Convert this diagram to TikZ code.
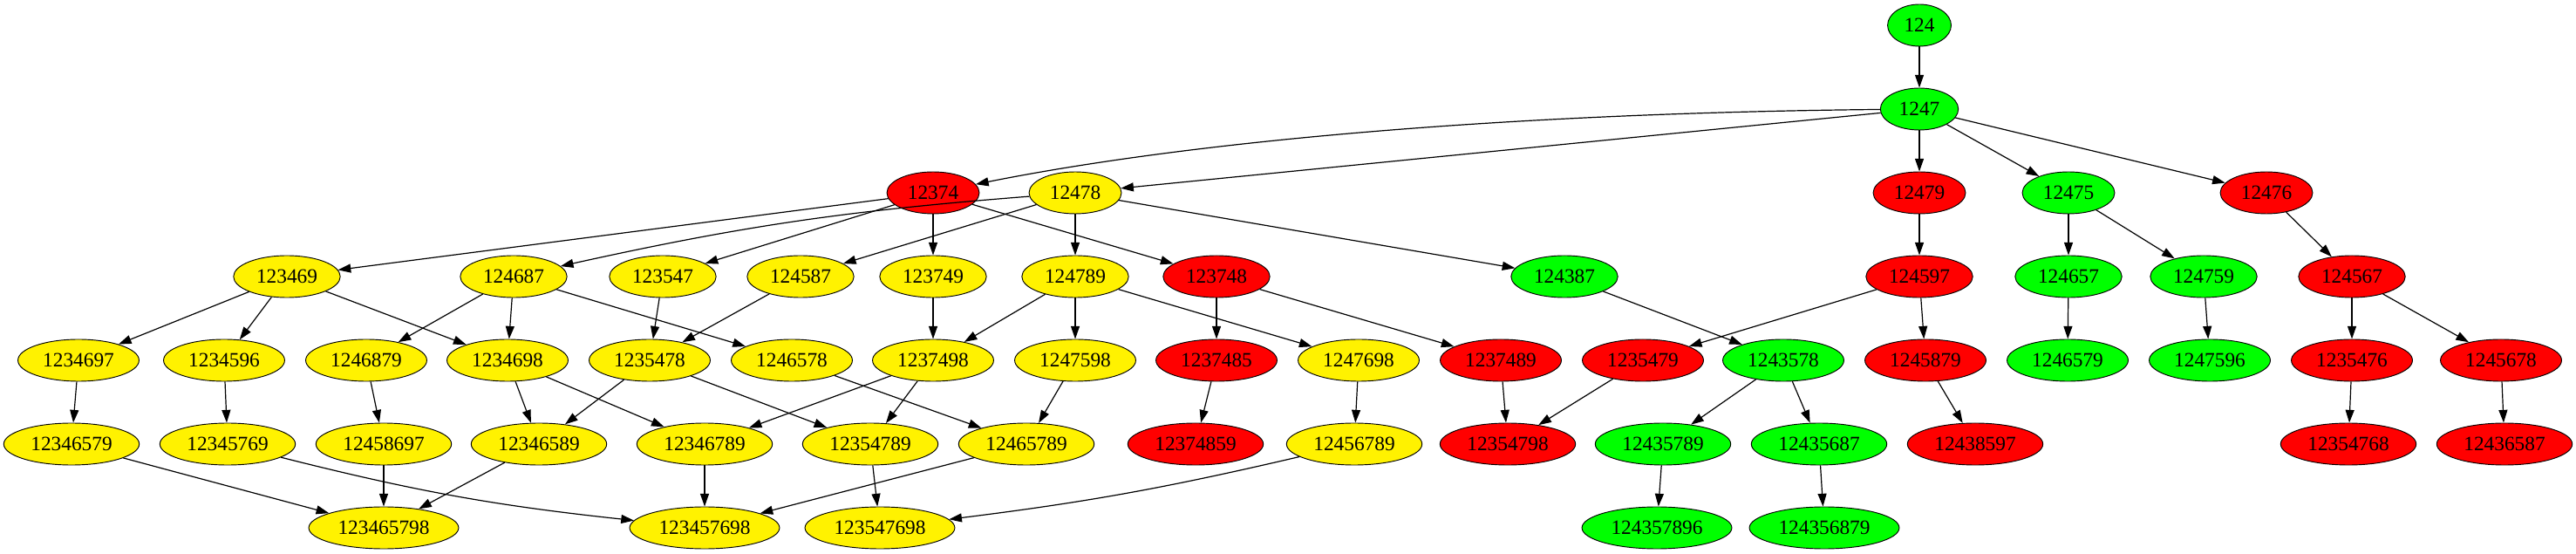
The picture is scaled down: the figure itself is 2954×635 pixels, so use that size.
\documentclass[tikz,border=0pt]{standalone}
\usepackage{fontspec}
\setmainfont{Liberation Serif}
\usetikzlibrary{shapes.geometric, arrows.meta}

\tikzset{
    perm/.style={ellipse, draw, line width=0.7pt, inner xsep=6.2pt, inner ysep=2pt, minimum height=36pt, font=\fontsize{17.5}{21}\selectfont},
    gnode/.style={perm, fill=green},
    rnode/.style={perm, fill=red},
    ynode/.style={perm, fill=yellow},
    link/.style={-{Triangle[length=11pt, width=7.5pt]}, line width=0.9pt}
}

\begin{document}
\begin{tikzpicture}[x=0.75pt, y=0.75pt]
        \useasboundingbox (0,0) rectangle (2954,635);
        \node[gnode] (n124) at (2201,606) {124};
        \node[gnode] (n1247) at (2201,510) {1247};
        \node[rnode] (n12374) at (1070,414) {12374};
        \node[ynode] (n12478) at (1233,414) {12478};
        \node[rnode] (n12479) at (2201,414) {12479};
        \node[gnode] (n12475) at (2372,414) {12475};
        \node[rnode] (n12476) at (2599,414) {12476};
        \node[ynode] (n123469) at (329,318) {123469};
        \node[ynode] (n124687) at (589,318) {124687};
        \node[ynode] (n123547) at (760,318) {123547};
        \node[ynode] (n124587) at (918,318) {124587};
        \node[ynode] (n123749) at (1070,318) {123749};
        \node[ynode] (n124789) at (1233,318) {124789};
        \node[rnode] (n123748) at (1395,318) {123748};
        \node[gnode] (n124387) at (1794,318) {124387};
        \node[rnode] (n124597) at (2201,318) {124597};
        \node[gnode] (n124657) at (2372,318) {124657};
        \node[gnode] (n124759) at (2527,318) {124759};
        \node[rnode] (n124567) at (2697,318) {124567};
        \node[ynode] (n1234697) at (90,222) {1234697};
        \node[ynode] (n1234596) at (257,222) {1234596};
        \node[ynode] (n1246879) at (420,222) {1246879};
        \node[ynode] (n1234698) at (582,222) {1234698};
        \node[ynode] (n1235478) at (745,222) {1235478};
        \node[ynode] (n1246578) at (908,222) {1246578};
        \node[ynode] (n1237498) at (1070,222) {1237498};
        \node[ynode] (n1247598) at (1233,222) {1247598};
        \node[rnode] (n1237485) at (1395,222) {1237485};
        \node[ynode] (n1247698) at (1558,222) {1247698};
        \node[rnode] (n1237489) at (1721,222) {1237489};
        \node[rnode] (n1235479) at (1884,222) {1235479};
        \node[gnode] (n1243578) at (2045,222) {1243578};
        \node[rnode] (n1245879) at (2208,222) {1245879};
        \node[gnode] (n1246579) at (2371,222) {1246579};
        \node[gnode] (n1247596) at (2534,222) {1247596};
        \node[rnode] (n1235476) at (2697,222) {1235476};
        \node[rnode] (n1245678) at (2868,222) {1245678};
        \node[ynode] (n12346579) at (82,126) {12346579};
        \node[ynode] (n12345769) at (261,126) {12345769};
        \node[ynode] (n12458697) at (440,126) {12458697};
        \node[ynode] (n12346589) at (618,126) {12346589};
        \node[ynode] (n12346789) at (808,126) {12346789};
        \node[ynode] (n12354789) at (998,126) {12354789};
        \node[ynode] (n12465789) at (1177,126) {12465789};
        \node[rnode] (n12374859) at (1371,126) {12374859};
        \node[ynode] (n12456789) at (1553,126) {12456789};
        \node[rnode] (n12354798) at (1729,126) {12354798};
        \node[gnode] (n12435789) at (1907,126) {12435789};
        \node[gnode] (n12435687) at (2086,126) {12435687};
        \node[rnode] (n12438597) at (2265,126) {12438597};
        \node[rnode] (n12354768) at (2693,126) {12354768};
        \node[rnode] (n12436587) at (2872,126) {12436587};
        \node[ynode] (n123465798) at (440,30) {123465798};
        \node[ynode] (n123457698) at (808,30) {123457698};
        \node[ynode] (n123547698) at (1009,30) {123547698};
        \node[gnode] (n124357896) at (1900,30) {124357896};
        \node[gnode] (n124356879) at (2092,30) {124356879};
        \draw[link] (n124) -- (n1247);
        \draw[link] (n1247) .. controls (1700,505) and (1350,470) .. (n12374);
        \draw[link] (n1247) -- (n12478);
        \draw[link] (n1247) -- (n12479);
        \draw[link] (n1247) -- (n12475);
        \draw[link] (n1247) -- (n12476);
        \draw[link] (n12374) -- (n123469);
        \draw[link] (n12374) -- (n123547);
        \draw[link] (n12374) -- (n123749);
        \draw[link] (n12374) -- (n123748);
        \draw[link] (n12478) to[bend right=4] (n124687);
        \draw[link] (n12478) -- (n124587);
        \draw[link] (n12478) -- (n124789);
        \draw[link] (n12478) -- (n124387);
        \draw[link] (n12479) -- (n124597);
        \draw[link] (n12475) -- (n124657);
        \draw[link] (n12475) -- (n124759);
        \draw[link] (n12476) -- (n124567);
        \draw[link] (n123469) -- (n1234697);
        \draw[link] (n123469) -- (n1234596);
        \draw[link] (n123469) -- (n1234698);
        \draw[link] (n124687) -- (n1246879);
        \draw[link] (n124687) -- (n1234698);
        \draw[link] (n124687) -- (n1246578);
        \draw[link] (n123547) -- (n1235478);
        \draw[link] (n124587) -- (n1235478);
        \draw[link] (n123749) -- (n1237498);
        \draw[link] (n124789) -- (n1237498);
        \draw[link] (n124789) -- (n1247598);
        \draw[link] (n124789) -- (n1247698);
        \draw[link] (n123748) -- (n1237485);
        \draw[link] (n123748) -- (n1237489);
        \draw[link] (n124387) -- (n1243578);
        \draw[link] (n124597) -- (n1235479);
        \draw[link] (n124597) -- (n1245879);
        \draw[link] (n124657) -- (n1246579);
        \draw[link] (n124759) -- (n1247596);
        \draw[link] (n124567) -- (n1235476);
        \draw[link] (n124567) -- (n1245678);
        \draw[link] (n1234697) -- (n12346579);
        \draw[link] (n1234596) -- (n12345769);
        \draw[link] (n1246879) -- (n12458697);
        \draw[link] (n1234698) -- (n12346589);
        \draw[link] (n1234698) -- (n12346789);
        \draw[link] (n1235478) -- (n12346589);
        \draw[link] (n1235478) -- (n12354789);
        \draw[link] (n1246578) -- (n12465789);
        \draw[link] (n1237498) -- (n12346789);
        \draw[link] (n1237498) -- (n12354789);
        \draw[link] (n1247598) -- (n12465789);
        \draw[link] (n1237485) -- (n12374859);
        \draw[link] (n1247698) -- (n12456789);
        \draw[link] (n1237489) -- (n12354798);
        \draw[link] (n1235479) -- (n12354798);
        \draw[link] (n1243578) -- (n12435789);
        \draw[link] (n1243578) -- (n12435687);
        \draw[link] (n1245879) -- (n12438597);
        \draw[link] (n1235476) -- (n12354768);
        \draw[link] (n1245678) -- (n12436587);
        \draw[link] (n12346579) -- (n123465798);
        \draw[link] (n12458697) -- (n123465798);
        \draw[link] (n12346589) -- (n123465798);
        \draw[link] (n12345769) to[bend right=4] (n123457698);
        \draw[link] (n12346789) -- (n123457698);
        \draw[link] (n12465789) -- (n123457698);
        \draw[link] (n12354789) -- (n123547698);
        \draw[link] (n12456789) to[bend left=3] (n123547698);
        \draw[link] (n12435789) -- (n124357896);
        \draw[link] (n12435687) -- (n124356879);
\end{tikzpicture}
\end{document}
